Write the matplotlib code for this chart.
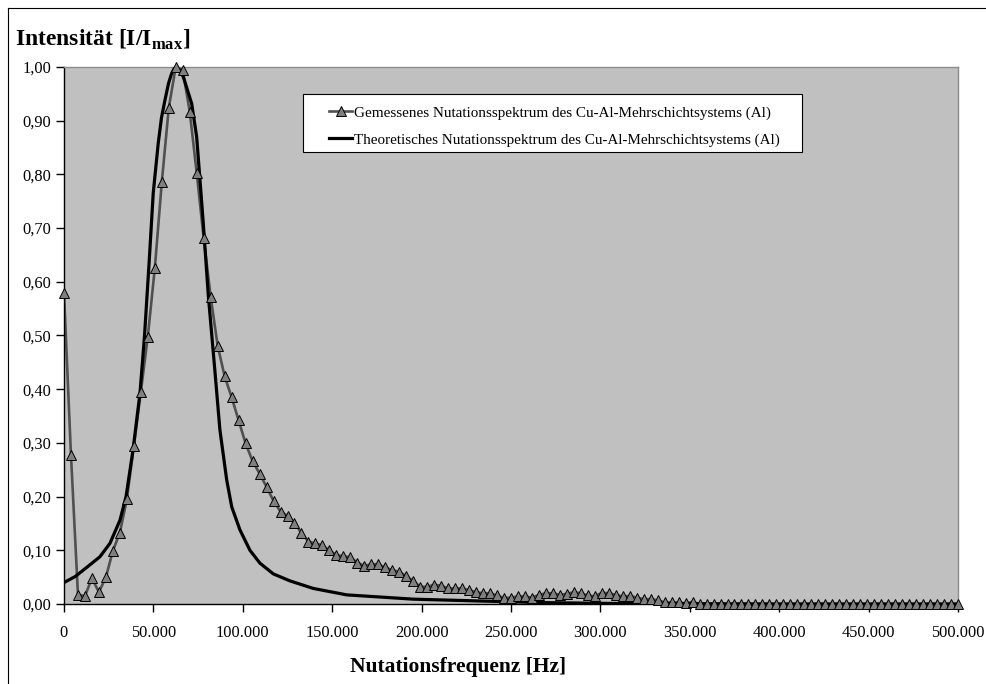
import numpy as np
import matplotlib
matplotlib.use("Agg")
import matplotlib.pyplot as plt
from matplotlib.lines import Line2D
from matplotlib.patches import Rectangle
from matplotlib.ticker import FuncFormatter, MultipleLocator

plt.rcParams["font.family"] = ["Liberation Serif", "DejaVu Serif"]
plt.rcParams["mathtext.fontset"] = "custom"
plt.rcParams["mathtext.rm"] = "Liberation Serif"
plt.rcParams["mathtext.bf"] = "Liberation Serif:bold"

# Measured nutation spectrum (129 samples from 0 to 500 kHz)
freq_measured = np.linspace(0, 500000, 129)
intensity_measured = [
    0.579, 0.277, 0.017, 0.015, 0.048, 0.022, 0.050, 0.099, 0.133, 0.195,
    0.294, 0.395, 0.498, 0.625, 0.785, 0.924, 1.000, 0.994, 0.917, 0.803,
    0.681, 0.572, 0.481, 0.424, 0.385, 0.342, 0.299, 0.266, 0.243, 0.218,
    0.192, 0.172, 0.164, 0.151, 0.132, 0.116, 0.113, 0.109, 0.100, 0.091,
    0.089, 0.087, 0.077, 0.071, 0.074, 0.074, 0.068, 0.063, 0.060, 0.052,
    0.043, 0.032, 0.032, 0.036, 0.034, 0.029, 0.029, 0.029, 0.026, 0.022,
    0.020, 0.020, 0.016, 0.011, 0.012, 0.014, 0.014, 0.012, 0.017, 0.020,
    0.020, 0.017, 0.019, 0.022, 0.020, 0.016, 0.014, 0.021, 0.020, 0.017,
    0.014, 0.015, 0.012, 0.009, 0.009, 0.007, 0.003, 0.003, 0.003, 0.001,
    0.004, 0.0, 0.0, 0.0, 0.0, 0.0, 0.0, 0.0, 0.0, 0.0,
    0.0, 0.0, 0.0, 0.0, 0.0, 0.0, 0.0, 0.0, 0.0, 0.0,
    0.0, 0.0, 0.0, 0.0, 0.0, 0.0, 0.0, 0.0, 0.0, 0.0,
    0.0, 0.0, 0.0, 0.0, 0.0, 0.0, 0.0, 0.0, 0.0,
]

# Theoretical nutation spectrum
freq_theory = [
    0, 6200, 13400, 20100, 25700, 31300, 34700, 38600, 42500, 45000,
    47700, 49900, 52700, 54500, 56500, 58500, 60200, 62100, 64500, 66700,
    71400, 74200, 77900, 80700, 84500, 87200, 91000, 93800, 98400, 104000,
    109600, 117100, 126400, 139400, 158100, 195400, 232700, 270000, 307200,
    400000, 500000,
]
intensity_theory = [
    0.040, 0.051, 0.070, 0.088, 0.113, 0.156, 0.200, 0.287, 0.393, 0.498,
    0.641, 0.765, 0.858, 0.905, 0.939, 0.970, 0.988, 1.000, 0.995, 0.982,
    0.932, 0.870, 0.709, 0.575, 0.430, 0.324, 0.231, 0.181, 0.138, 0.100,
    0.076, 0.056, 0.043, 0.029, 0.017, 0.009, 0.0056, 0.0025, 0.001,
    0.0, 0.0,
]

label_measured = "Gemessenes Nutationsspektrum des Cu-Al-Mehrschichtsystems (Al)"
label_theory = "Theoretisches Nutationsspektrum des Cu-Al-Mehrschichtsystems (Al)"

W, H = 987, 684
fig = plt.figure(figsize=(W / 100, H / 100), dpi=100)
ax = fig.add_axes([64 / W, (H - 604) / H, (958 - 64) / W, (604 - 67) / H])
ax.set_facecolor("#C0C0C0")

meas_color = "#505050"
meas_lw = 1.9
theo_lw = 2.3
marker_style = dict(marker="^", ms=7.2, mfc="#7F7F7F", mec="black", mew=0.7)

ax.plot(freq_measured, intensity_measured, color=meas_color, lw=meas_lw, zorder=2)
ax.plot(freq_theory, intensity_theory, color="black", lw=theo_lw, zorder=3)
ax.plot(freq_measured, intensity_measured, ls="none", zorder=4, clip_on=False,
        **marker_style)

ax.set_xlim(0, 500000)
ax.set_ylim(0, 1.0)
ax.xaxis.set_major_locator(MultipleLocator(50000))
ax.yaxis.set_major_locator(MultipleLocator(0.1))
ax.xaxis.set_major_formatter(FuncFormatter(
    lambda v, p: "0" if v == 0 else f"{int(round(v)):,}".replace(",", ".")))
ax.yaxis.set_major_formatter(FuncFormatter(lambda v, p: f"{v:.2f}".replace(".", ",")))
ax.tick_params(axis="both", direction="out", length=6, width=1, color="black",
               labelsize=11.8, labelcolor="black")
ax.tick_params(axis="x", pad=9)
ax.tick_params(axis="y", pad=3)

for side in ("top", "right"):
    ax.spines[side].set_color("#8C8C8C")
    ax.spines[side].set_linewidth(1)
for side in ("left", "bottom"):
    ax.spines[side].set_color("black")
    ax.spines[side].set_linewidth(1)

fig.text(15 / W, 1 - 46 / H, r"Intensität [I/I$_{\mathbf{max}}$]",
         fontsize=17, fontweight="bold", ha="left", va="baseline")
fig.text(458 / W, 1 - 667 / H, "Nutationsfrequenz [Hz]", fontsize=15.5,
         fontweight="bold", ha="center", va="center")

# Legend: white box behind the entries
legend_box = Rectangle((302.7 / W, 1 - 151.7 / H), (802.3 - 302.7) / W,
                       (151.7 - 94) / H, transform=fig.transFigure,
                       facecolor="white", edgecolor="black", lw=0.8,
                       zorder=5, clip_on=False)
ax.add_artist(legend_box)
handles = [
    Line2D([], [], color=meas_color, lw=meas_lw, **marker_style),
    Line2D([], [], color="black", lw=theo_lw),
]
leg = ax.legend(handles, [label_measured, label_theory], loc="center left",
                bbox_to_anchor=(329 / W, 1 - 126.2 / H),
                bbox_transform=fig.transFigure, fontsize=10.9, frameon=False,
                handlelength=1.52, handletextpad=0.15, borderpad=0,
                labelspacing=0.88, borderaxespad=0, numpoints=1)
leg.set_zorder(6)

# Outer chart frame
fig.add_artist(Line2D([8 / W, 1], [1 - 8 / H, 1 - 8 / H], transform=fig.transFigure,
                      color="black", lw=0.8))
fig.add_artist(Line2D([8 / W, 8 / W], [0, 1 - 8 / H], transform=fig.transFigure,
                      color="black", lw=0.8))

fig.savefig("out.png", dpi=100)
